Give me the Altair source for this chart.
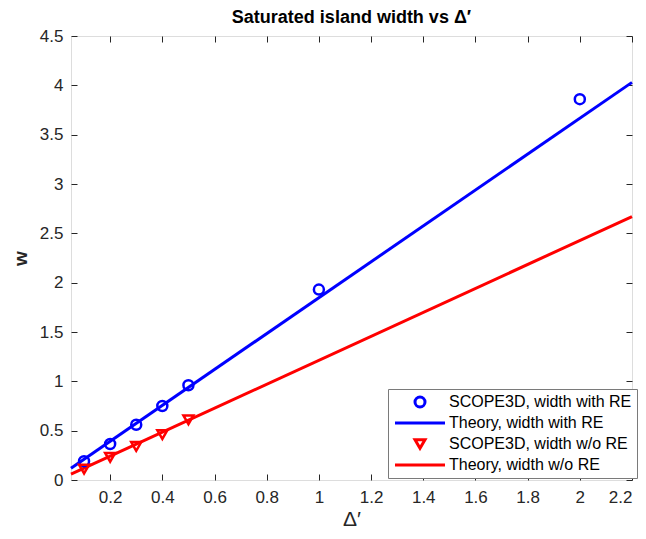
import altair as alt
import pandas as pd

# ---- data ----
dp_re = [0.1, 0.2, 0.3, 0.4, 0.5, 1.0, 2.0]
w_re = [0.19, 0.365, 0.56, 0.75, 0.96, 1.93, 3.86]
dp_nore = [0.1, 0.2, 0.3, 0.4, 0.5]
w_nore = [0.11, 0.23, 0.34, 0.46, 0.61]
theory_x = [0.05, 2.2]
theory_re = [0.12, 4.03]
theory_nore = [0.06, 2.67]

labels = ["SCOPE3D, width with RE", "Theory, width with RE",
          "SCOPE3D, width w/o RE", "Theory, width w/o RE"]
colors = ["#0000ff", "#0000ff", "#ff0000", "#ff0000"]
shapes = ["circle", "M-5,0L5,0", "triangle-down", "M-5,0L5,0"]
x_ticks = [0.2, 0.4, 0.6, 0.8, 1.0, 1.2, 1.4, 1.6, 1.8, 2.0, 2.2]
y_ticks = [0, 0.5, 1, 1.5, 2, 2.5, 3, 3.5, 4, 4.5]

pts = pd.DataFrame({
    "x": dp_re + dp_nore,
    "y": w_re + w_nore,
    "series": [labels[0]] * len(dp_re) + [labels[2]] * len(dp_nore),
})
lines = pd.DataFrame({
    "x": theory_x + theory_x,
    "y": theory_re + theory_nore,
    "series": [labels[1]] * 2 + [labels[3]] * 2,
})

FONT = "Liberation Sans"
AX = "#7a7a7a"
TXT = "#262626"

xscale = alt.Scale(domain=[0.05, 2.2], nice=False, zero=False)
yscale = alt.Scale(domain=[0, 4.5], nice=False, zero=False)
cscale = alt.Scale(domain=labels, range=colors)
sscale = alt.Scale(domain=labels, range=shapes)

legend = alt.Legend(
    title=None, orient="none", legendX=317, legendY=353,
    fillColor="white", strokeColor=AX, padding=5,
    labelFont=FONT, labelFontSize=16, labelColor="black",
    symbolSize=100, symbolStrokeWidth=3, symbolOffset=19, labelOffset=21,
    rowPadding=2, labelLimit=300,
)

common_axis = dict(domain=False, tickColor=TXT, tickSize=6, offset=-6,
                   grid=False, labelFont=FONT, labelFontSize=17,
                   labelColor=TXT, format=".1~f")

points = alt.Chart(pts).mark_point(filled=False, strokeWidth=2.5, size=100, opacity=1).encode(
    x=alt.X("x:Q", scale=xscale,
            axis=alt.Axis(orient="bottom", values=x_ticks, title="Δ′",
                          titleFont=FONT, titleFontSize=21, titleFontWeight="normal",
                          titleColor=TXT, titlePadding=3, labelPadding=9,
                          **common_axis)),
    y=alt.Y("y:Q", scale=yscale,
            axis=alt.Axis(orient="left", values=y_ticks, title="w",
                          titleFont=FONT, titleFontSize=19, titleFontWeight="bold",
                          titleColor=TXT, titlePadding=9, labelPadding=8,
                          **common_axis)),
    color=alt.Color("series:N", scale=cscale, legend=legend),
    shape=alt.Shape("series:N", scale=sscale, legend=legend),
)

theory = alt.Chart(lines).mark_line(strokeWidth=3).encode(
    x=alt.X("x:Q", scale=xscale,
            axis=alt.Axis(orient="top", values=x_ticks, title=None, labels=False,
                          **common_axis)),
    y=alt.Y("y:Q", scale=yscale,
            axis=alt.Axis(orient="right", values=y_ticks, title=None, labels=False,
                          **common_axis)),
    color=alt.Color("series:N", scale=cscale, legend=legend),
    detail="series:N",
)

chart = alt.layer(theory, points).resolve_scale(
    x="shared", y="shared", color="shared", shape="shared"
).resolve_axis(x="independent", y="independent").properties(
    width=561, height=444,
    autosize=alt.AutoSizeParams(type="none"),
    padding={"left": 63, "top": 28, "right": 6, "bottom": 51},
    title=alt.TitleParams("Saturated island width vs Δ′", font=FONT, fontSize=18,
                          fontWeight="bold", color="black", anchor="middle",
                          frame="group", offset=0),
).configure_view(stroke=AX, strokeWidth=1).configure(background="white")

chart.save("out.html", embed_options={"renderer": "svg", "actions": False})
